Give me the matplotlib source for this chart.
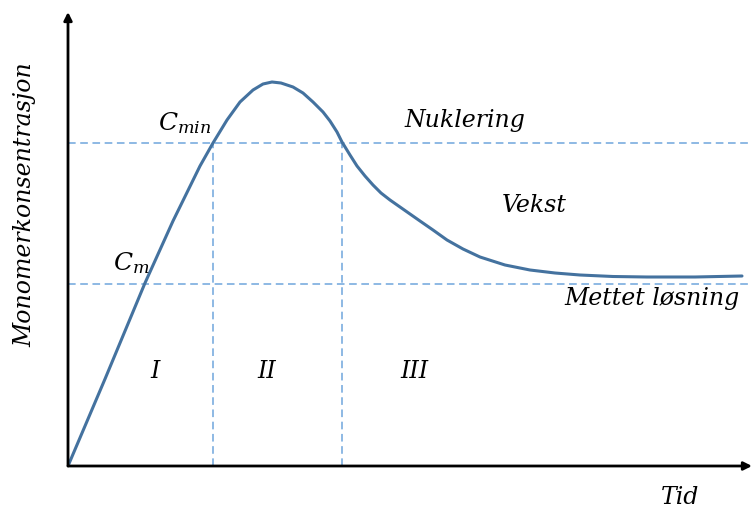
import matplotlib
matplotlib.use("Agg")
import matplotlib.pyplot as plt
import numpy as np

# monomerkonsentrasjon over tid (LaMer-diagram), lest av bildet
tid = [0, 37, 77, 105, 132, 145, 159, 172, 185, 195, 204, 213, 225, 235,
       245, 255, 262, 269, 274, 282, 289, 297, 305, 313, 322, 332, 342,
       352, 365, 379, 395, 412, 437, 462, 487, 512, 545, 579, 627, 674]
konsentrasjon = [0, 87, 183, 245, 300, 323, 346, 364, 376, 382, 384, 383, 379,
                 373, 364, 354, 345, 334, 324, 311, 300, 290, 281, 273, 266,
                 259, 252, 245, 236, 226, 217, 209, 201, 196, 193, 191, 189.5,
                 189, 189, 190]

c_min = 323
c_m = 182
t_grenser = [145, 274]
t_max = 684
c_max = 454

plt.rcParams['mathtext.fontset'] = 'dejavuserif'
fnt = dict(family='DejaVu Serif', style='italic', fontsize=17, color='black')

fig = plt.figure(figsize=(7.52, 5.08), dpi=100)
ax = fig.add_axes([68/752, 42/508, 684/752, 454/508])
ax.set_xlim(0, t_max)
ax.set_ylim(0, c_max)
ax.axis('off')

lys = '#6fa5dc'
for c in [c_min, c_m]:
    ax.plot([0, t_max], [c, c], color=lys, lw=1.1, ls=(0, (5, 3)))
for t in t_grenser:
    ax.plot([t, t], [0, c_min], color=lys, lw=1.1, ls=(0, (5, 3)))

ax.plot(tid, konsentrasjon, color='#44729f', lw=2.2,
        solid_capstyle='round', solid_joinstyle='round')

# akser med piler
ax.annotate('', xy=(t_max, 0), xytext=(0, 0), annotation_clip=False,
            arrowprops=dict(arrowstyle='-|>', color='black', lw=2, mutation_scale=12,
                            shrinkA=0, shrinkB=0))
ax.annotate('', xy=(0, c_max), xytext=(0, 0), annotation_clip=False,
            arrowprops=dict(arrowstyle='-|>', color='black', lw=2, mutation_scale=12,
                            shrinkA=0, shrinkB=0))

ax.text(336, 345, 'Nuklering', ha='left', va='center', **fnt)
ax.text(434, 260, 'Vekst', ha='left', va='center', **fnt)
ax.text(672, 168, 'Mettet løsning', ha='right', va='center', **fnt)
ax.text(90, 343, r'$C_{min}$', ha='left', va='center', fontsize=18)
ax.text(45, 203, r'$C_{m}$', ha='left', va='center', fontsize=18)
for t, lab in zip([87, 199, 346], ['I', 'II', 'III']):
    ax.text(t, 94, lab, ha='center', va='center', **fnt)
ax.text(612, -31, 'Tid', ha='center', va='center', clip_on=False, **fnt)

fig.text(25/752, 1 - 205/508, 'Monomerkonsentrasjon', rotation=90,
         ha='center', va='center', **fnt)

fig.savefig('out.png', dpi=100)
